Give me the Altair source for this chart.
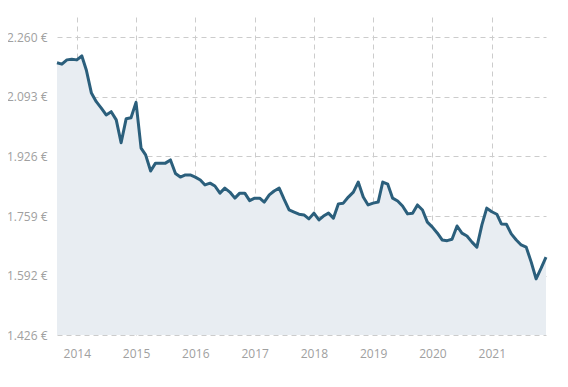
import altair as alt
import pandas as pd

months = pd.date_range("2013-09-01", "2021-12-01", freq="MS").strftime("%Y-%m-%d").tolist()
values = [2188, 2184, 2196, 2198, 2196, 2207, 2167, 2103, 2079, 2061,
          2042, 2051, 2028, 1964, 2031, 2034, 2077, 1949, 1930, 1885,
          1907, 1907, 1907, 1916, 1878, 1868, 1874, 1874, 1868, 1860,
          1846, 1851, 1843, 1823, 1837, 1826, 1809, 1823, 1823, 1802,
          1809, 1809, 1798, 1818, 1829, 1837, 1806, 1776, 1770, 1764,
          1762, 1751, 1767, 1748, 1759, 1767, 1753, 1793, 1795, 1812,
          1826, 1854, 1812, 1790, 1795, 1798, 1854, 1848, 1809, 1801,
          1787, 1765, 1767, 1790, 1776, 1742, 1728, 1711, 1692, 1690,
          1694, 1731, 1711, 1703, 1686, 1672, 1734, 1781, 1771, 1764,
          1737, 1736, 1709, 1692, 1678, 1672, 1630, 1583, 1613, 1644]
y_ticks = [1426, 1592, 1759, 1926, 2093, 2260]
y_min, y_max = 1426, 2316

df = pd.DataFrame({"date": months, "value": values})

x = alt.X("date:T",
          scale=alt.Scale(domain=["2013-09-01", "2021-12-01"]),
          axis=alt.Axis(format="%Y", tickCount="year", title=None, ticks=False,
                        domain=False, labelPadding=13, gridDash=[5, 4],
                        gridColor="#cccccc", labelColor="#a0a0a0",
                        labelFont="Open Sans", labelFontSize=12))
y = alt.Y("value:Q",
          scale=alt.Scale(domain=[y_min, y_max], zero=False, nice=False),
          axis=alt.Axis(values=y_ticks, title=None, ticks=False, domain=False,
                        labelPadding=10, gridDash=[5, 4], gridColor="#cccccc",
                        labelColor="#a0a0a0", labelFont="Open Sans", labelFontSize=12,
                        labelExpr="replace(format(datum.value, ',.0f'), ',', '.') + ' €'"))

base = alt.Chart(df)
area = base.mark_area(color="#e8edf2").encode(x=x, y=y, y2=alt.datum(y_min))
line = base.mark_line(color="#2b5f7c", strokeWidth=3, strokeJoin="round").encode(x=x, y=y)

chart = (area + line).properties(
    width=489, height=318,
    autosize=alt.AutoSizeParams(type="none"),
    padding={"left": 49, "top": 9, "right": 10, "bottom": 40},
).configure_view(stroke=None)

chart.save("out.html", embed_options={"renderer": "svg", "actions": False})
